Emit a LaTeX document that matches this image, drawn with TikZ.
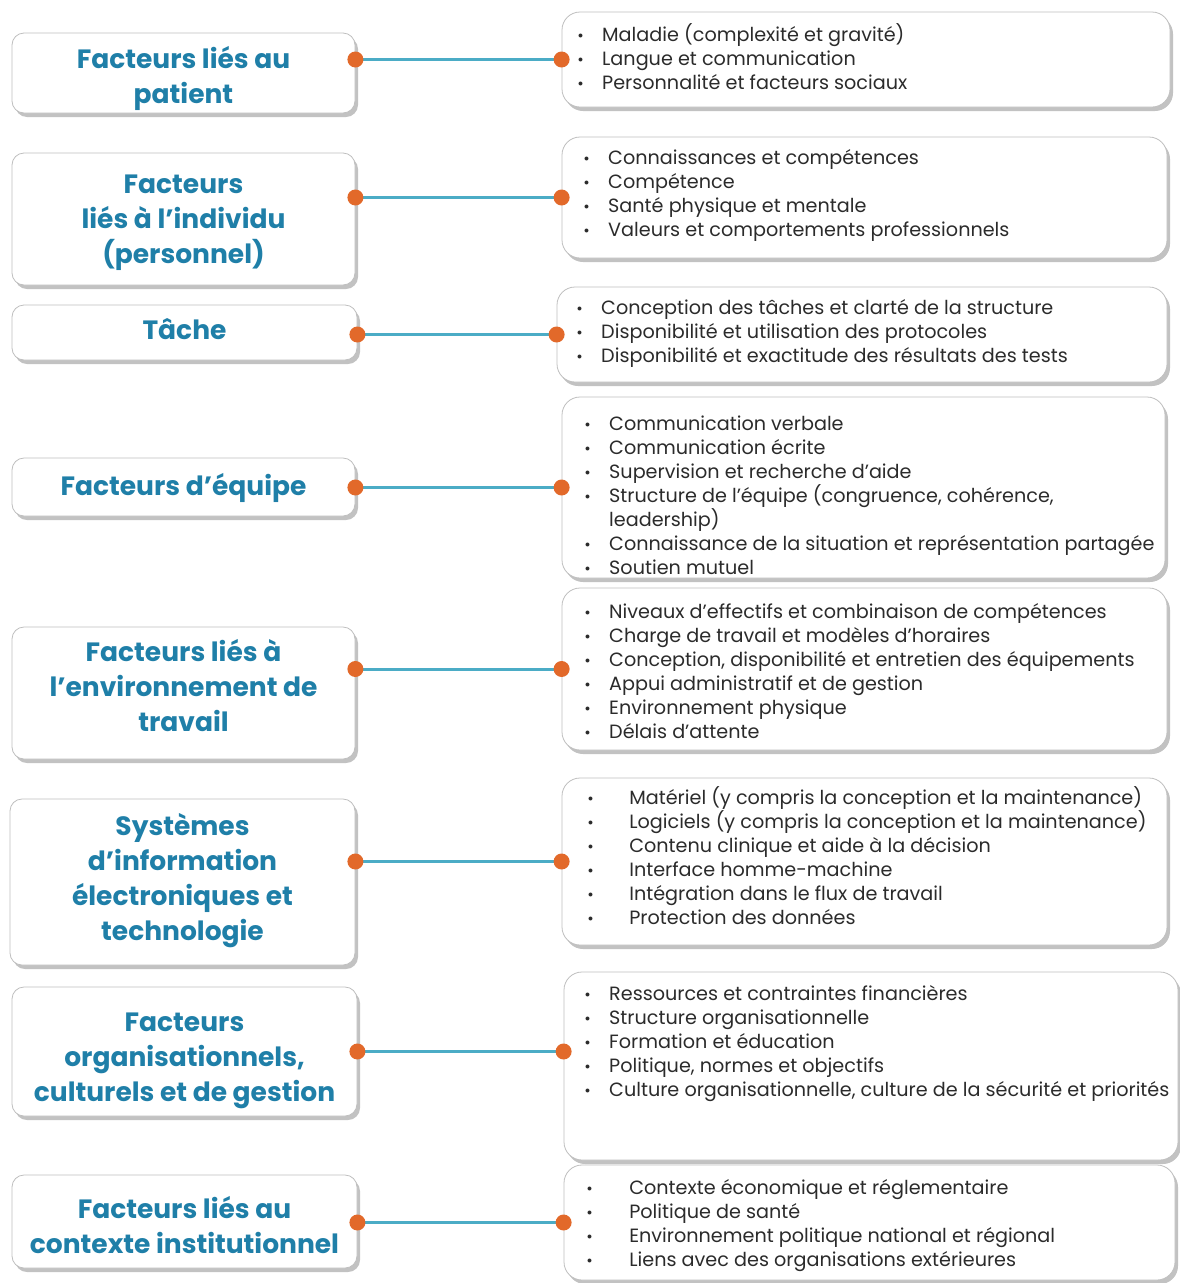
\documentclass[tikz,border=0pt]{standalone}
\usepackage{fontspec}
\setmainfont{Poppins}
\usetikzlibrary{positioning, shadows}
\definecolor{FactorTeal}{HTML}{1F7FA8}
\definecolor{LinkBlue}{HTML}{4BACC6}
\definecolor{DotOrange}{HTML}{E2692A}
\definecolor{EdgeGray}{HTML}{BFBFBF}
\definecolor{ItemGray}{HTML}{2B2B2B}

\tikzset{
  factor/.style={rectangle, rounded corners=12pt, draw=EdgeGray, line width=0.8pt,
                 fill=white, minimum width=343pt, align=center, text=FactorTeal,
                 inner sep=0pt, font=\fontsize{26.5}{35}\selectfont\bfseries,
                 drop shadow={shadow xshift=3pt, shadow yshift=-4pt, fill=black!40, opacity=0.6}},
  detail/.style={rectangle, rounded corners=18pt, draw=EdgeGray, line width=0.8pt,
                 fill=white,
                 drop shadow={shadow xshift=3pt, shadow yshift=-4pt, fill=black!40, opacity=0.6}},
  items/.style={anchor=north west, align=left, inner sep=0pt, text=ItemGray,
                font=\fontsize{19.2}{24}\selectfont},
  link/.style={LinkBlue, line width=3pt},
  dot/.style={fill=DotOrange}
}
\newcommand{\bul}[1][24pt]{\rule{0pt}{18pt}\makebox[#1][l]{\raisebox{2.7pt}{\fontsize{10}{10}\selectfont$\bullet$}}}
\newcommand{\labtop}[1]{\rule{0pt}{#1pt}}
\newcommand{\labbot}[1]{\rule[-#1pt]{0pt}{#1pt}}

\begin{document}
\begin{tikzpicture}[x=1pt, y=-1pt]
    \useasboundingbox (0,0) rectangle (1180,1283);

    % Factors
    \node[factor, minimum height=80pt] (l1) at (183.5,73) {\labtop{33}Facteurs liés au\\patient\labbot{8}};
    \node[factor, minimum height=132pt] (l2) at (183.5,219) {\labtop{26}Facteurs\\liés à l'individu\\(personnel)\labbot{8}};
    \node[factor, minimum width=345pt, minimum height=55pt] (l3) at (184.5,332.5) {\labtop{21}Tâche\labbot{8}};
    \node[factor, minimum height=58pt] (l4) at (183.5,487) {\labtop{24}Facteurs d'équipe\labbot{8}};
    \node[factor, minimum height=132pt] (l5) at (183.5,693) {\labtop{21}Facteurs liés à\\l'environnement de\\travail\labbot{16}};
    \node[factor, minimum width=345pt, minimum height=166pt] (l6) at (182.5,882) {\labtop{21}Systèmes\\d'information\\électroniques et\\technologie\labbot{11}};
    \node[factor, minimum width=345pt, minimum height=129pt] (l7) at (184.5,1051.5) {\labtop{37}Facteurs\\organisationnels,\\culturels et de gestion\labbot{8}};
    \node[factor, minimum width=345pt, minimum height=93pt] (l8) at (184.5,1221.5) {\labtop{36}Facteurs liés au\\contexte institutionnel\labbot{8}};

    % Details
    \node[detail, minimum width=608pt, minimum height=95pt] (r1) at (866,59.5) {};
    \node[detail, minimum width=605pt, minimum height=121pt] (r2) at (864.5,197.5) {};
    \node[detail, minimum width=610pt, minimum height=95pt] (r3) at (862,334.5) {};
    \node[detail, minimum width=603pt, minimum height=181pt] (r4) at (863.5,487.5) {};
    \node[detail, minimum width=605pt, minimum height=162pt] (r5) at (864.5,669) {};
    \node[detail, minimum width=605pt, minimum height=167pt] (r6) at (864.5,861.5) {};
    \node[detail, minimum width=614pt, minimum height=188pt] (r7) at (871,1066) {};
    \node[detail, minimum width=611pt, minimum height=115pt] (r8) at (869.5,1222.5) {};

    \node[items] (t1) at (578,23) {\bul Maladie (complexité et gravité)\\
        \bul Langue et communication\\
        \bul Personnalité et facteurs sociaux};
    \node[items] (t2) at (584,146) {\bul Connaissances et compétences\\
        \bul Compétence\\
        \bul Santé physique et mentale\\
        \bul Valeurs et comportements professionnels};
    \node[items] (t3) at (577,296) {\bul Conception des tâches et clarté de la structure\\
        \bul Disponibilité et utilisation des protocoles\\
        \bul Disponibilité et exactitude des résultats des tests};
    \node[items] (t4) at (585,412) {\bul Communication verbale\\
        \bul Communication écrite\\
        \bul Supervision et recherche d'aide\\
        \bul Structure de l'équipe (congruence, cohérence,\\
        \hspace*{24pt}leadership)\\
        \bul Connaissance de la situation et représentation partagée\\
        \bul Soutien mutuel};
    \node[items] (t5) at (585,600) {\bul Niveaux d'effectifs et combinaison de compétences\\
        \bul Charge de travail et modèles d'horaires\\
        \bul Conception, disponibilité et entretien des équipements\\
        \bul Appui administratif et de gestion\\
        \bul Environnement physique\\
        \bul Délais d'attente};
    \node[items] (t6) at (588,786) {\bul[36pt] Matériel (y compris la conception et la maintenance)\\
        \bul[36pt] Logiciels (y compris la conception et la maintenance)\\
        \bul[36pt] Contenu clinique et aide à la décision\\
        \bul[36pt] Interface homme-machine\\
        \bul[36pt] Intégration dans le flux de travail\\
        \bul[36pt] Protection des données};
    \node[items] (t7) at (585,982) {\bul Ressources et contraintes financières\\
        \bul Structure organisationnelle\\
        \bul Formation et éducation\\
        \bul Politique, normes et objectifs\\
        \bul Culture organisationnelle, culture de la sécurité et priorités};
    \node[items] (t8) at (587,1176) {\bul[37pt] Contexte économique et réglementaire\\
        \bul[37pt] Politique de santé\\
        \bul[37pt] Environnement politique national et régional\\
        \bul[37pt] Liens avec des organisations extérieures};

    % Links
    \draw[link] (l1.east |- r1.west) -- (r1.west);
    \fill[dot] (l1.east |- r1.west) circle (8pt) (r1.west) circle (8pt);
    \draw[link] (l2.east |- r2.west) -- (r2.west);
    \fill[dot] (l2.east |- r2.west) circle (8pt) (r2.west) circle (8pt);
    \draw[link] (l3.east |- r3.west) -- (r3.west);
    \fill[dot] (l3.east |- r3.west) circle (8pt) (r3.west) circle (8pt);
    \draw[link] (l4.east |- r4.west) -- (r4.west);
    \fill[dot] (l4.east |- r4.west) circle (8pt) (r4.west) circle (8pt);
    \draw[link] (l5.east |- r5.west) -- (r5.west);
    \fill[dot] (l5.east |- r5.west) circle (8pt) (r5.west) circle (8pt);
    \draw[link] (l6.east |- r6.west) -- (r6.west);
    \fill[dot] (l6.east |- r6.west) circle (8pt) (r6.west) circle (8pt);
    \draw[link] (l7.east) -- (r7.west |- l7.east);
    \fill[dot] (l7.east) circle (8pt) (r7.west |- l7.east) circle (8pt);
    \draw[link] (l8.east |- r8.west) -- (r8.west);
    \fill[dot] (l8.east |- r8.west) circle (8pt) (r8.west) circle (8pt);
\end{tikzpicture}
\end{document}
